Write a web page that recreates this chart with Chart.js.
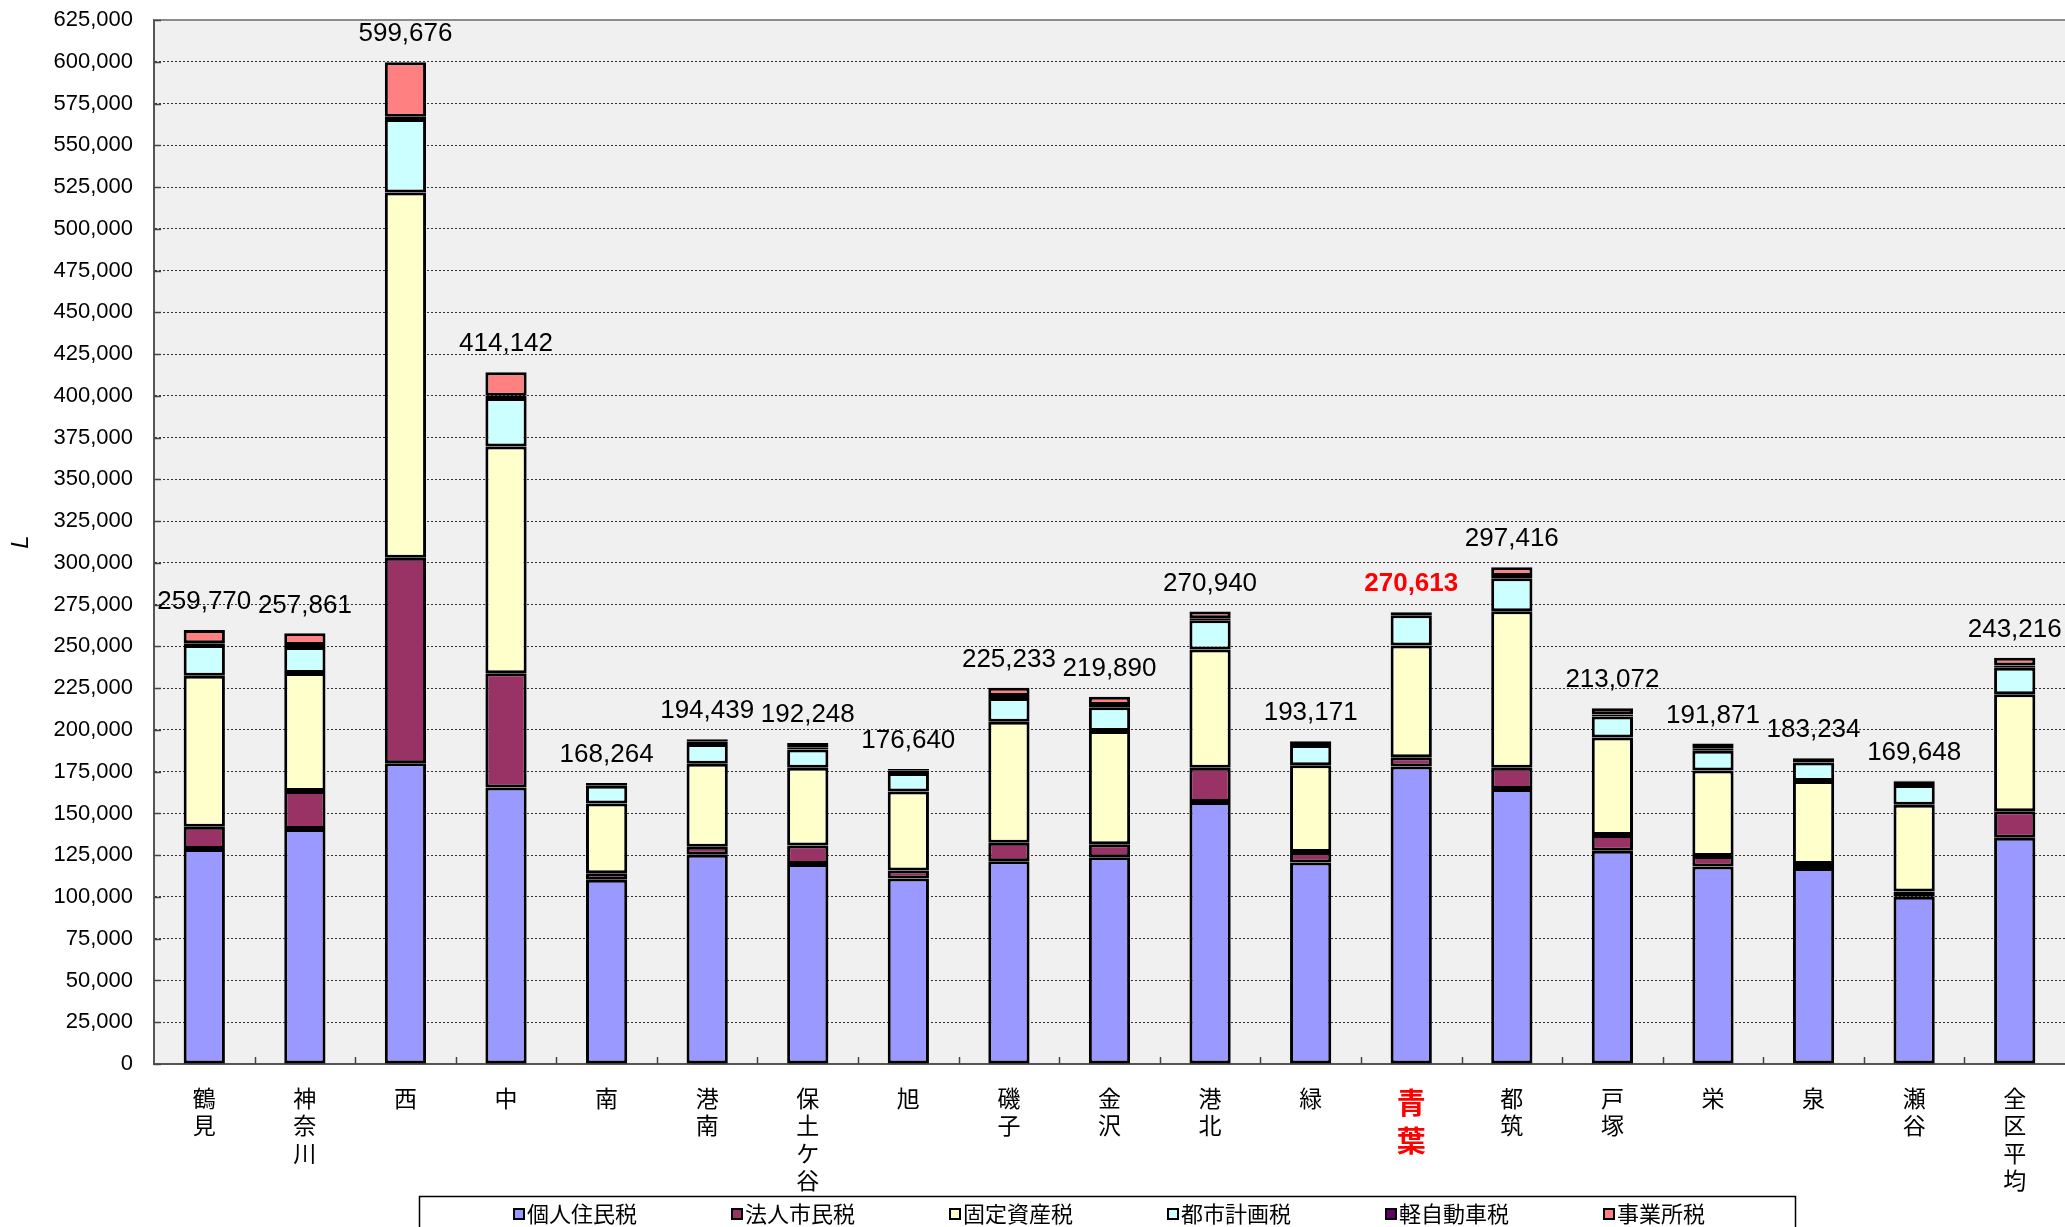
<!DOCTYPE html>
<html>
<head>
<meta charset="UTF-8">
<title>区別税収</title>
<style type="text/css">
body {
	margin: 0;
	background: #ffffff;
}
#chart {
	display: block;
}
</style>
<script type="text/javascript" src="https://cdn.jsdelivr.net/npm/chart.js@4/dist/chart.umd.min.js"></script>
</head>
<body>
<canvas id="chart" width="2065" height="1227"></canvas>
<script type="text/javascript">
	// 区名
	var categories = ['鶴見', '神奈川', '西', '中', '南', '港南', '保土ケ谷', '旭', '磯子', '金沢',
		'港北', '緑', '青葉', '都筑', '戸塚', '栄', '泉', '瀬谷', '全区平均'];

	// 税目ごとの値
	var kojinJumin = [128700, 140700, 180000, 165500, 110300, 125300, 119800, 111100, 121400, 123700,
		156800, 120600, 178100, 164700, 127700, 118200, 117400, 100100, 135500];
	var hojinShimin = [13400, 22700, 123100, 68500, 3900, 4700, 11000, 4700, 11000, 7900,
		20500, 6300, 5500, 12600, 9400, 6300, 2400, 3100, 15800];
	var koteiShisan = [90400, 70700, 218600, 135600, 41700, 49700, 46500, 47300, 72500, 67800,
		70900, 52000, 67000, 93800, 58300, 51200, 49600, 52000, 70100];
	var toshiKeikaku = [18300, 15500, 44100, 29100, 10700, 11800, 11000, 11100, 14200, 14200,
		17400, 12000, 18100, 19700, 12600, 11900, 11100, 11900, 15800];
	var keiJidosha = [1100, 1200, 1300, 1300, 1000, 1400, 1300, 1400, 1200, 1300,
		1200, 1800, 1400, 1300, 1300, 1500, 2300, 2100, 1300];
	var jigyosho = [7900, 7000, 32600, 14100, 600, 1500, 2600, 1000, 4900, 5000,
		4100, 500, 500, 5300, 3700, 2800, 400, 400, 4700];

	// 合計（棒の上のラベル）
	var totals = [259770, 257861, 599676, 414142, 168264, 194439, 192248, 176640, 225233, 219890,
		270940, 193171, 270613, 297416, 213072, 191871, 183234, 169648, 243216];

	var yMax = 625000;
	var yStep = 25000;
	var highlight = 12; // 青葉

	function fmt(v) {
		return Number(v).toLocaleString('en-US');
	}

	// 背景、軸の目盛り、合計ラベル、凡例を描く
	var decorPlugin = {
		id: 'decor',
		beforeDraw: function(chart) {
			var ctx = chart.ctx, a = chart.chartArea;
			ctx.save();
			ctx.fillStyle = '#f0f0f0';
			ctx.fillRect(a.left, a.top, a.right - a.left, a.bottom - a.top);
			ctx.restore();
		},
		afterDatasetsDraw: function(chart) {
			var ctx = chart.ctx, a = chart.chartArea;
			var x = chart.scales.x, y = chart.scales.y;
			ctx.save();
			// 上端の枠線
			ctx.strokeStyle = '#8c8c8c';
			ctx.lineWidth = 2;
			ctx.beginPath();
			ctx.moveTo(a.left, a.top);
			ctx.lineTo(a.right, a.top);
			ctx.stroke();
			// 内向きの目盛り
			ctx.strokeStyle = '#444';
			ctx.lineWidth = 1.5;
			for (var v = 0; v <= yMax; v += yStep) {
				var py = Math.round(y.getPixelForValue(v)) + 0.5;
				ctx.beginPath();
				ctx.moveTo(a.left, py);
				ctx.lineTo(a.left + 7, py);
				ctx.stroke();
			}
			var w = x.getPixelForValue(1) - x.getPixelForValue(0);
			for (var i = 1; i < categories.length; i++) {
				var px = Math.round(x.getPixelForValue(i) - w / 2) + 0.5;
				ctx.beginPath();
				ctx.moveTo(px, a.bottom);
				ctx.lineTo(px, a.bottom - 7);
				ctx.stroke();
			}
			// 合計ラベル
			var topMeta = chart.getDatasetMeta(chart.data.datasets.length - 1);
			ctx.textAlign = 'center';
			ctx.textBaseline = 'middle';
			for (var j = 0; j < totals.length; j++) {
				var bar = topMeta.data[j];
				if (j == highlight) {
					ctx.fillStyle = '#ff0000';
					ctx.font = 'bold 26px "Liberation Sans", Arial, sans-serif';
				} else {
					ctx.fillStyle = '#000000';
					ctx.font = '26px "Liberation Sans", Arial, sans-serif';
				}
				ctx.fillText(fmt(totals[j]), bar.x, bar.y - 28);
			}
			ctx.restore();
		},
		afterDraw: function(chart) {
			var ctx = chart.ctx;
			ctx.save();
			// 凡例の枠
			ctx.strokeStyle = '#000';
			ctx.lineWidth = 1.5;
			ctx.strokeRect(419.5, 1196.5, 1376, 60);
			ctx.font = '22px "Noto Sans CJK JP", sans-serif';
			ctx.textBaseline = 'middle';
			ctx.textAlign = 'left';
			chart.data.datasets.forEach(function(ds, k) {
				var cx = 519 + k * 218;
				ctx.fillStyle = ds.backgroundColor;
				ctx.fillRect(cx - 5, 1209, 10, 10);
				ctx.strokeStyle = '#000';
				ctx.lineWidth = 2;
				ctx.strokeRect(cx - 5, 1209, 10, 10);
				ctx.fillStyle = '#000';
				ctx.fillText(ds.label, cx + 8, 1214);
			});
			ctx.restore();
		}
	};

	function makeSet(label, data, color) {
		return {
			label: label,
			data: data,
			backgroundColor: color,
			borderColor: '#000000',
			borderWidth: 3,
			borderSkipped: false,
			categoryPercentage: 1,
			barPercentage: 0.41
		};
	}

	var ctx = document.getElementById('chart').getContext('2d');
	var chart = new Chart(ctx, {
		type: 'bar',
		data: {
			labels: categories.map(function(s) { return Array.from(s); }),
			datasets: [
				makeSet('個人住民税', kojinJumin, '#9999ff'),
				makeSet('法人市民税', hojinShimin, '#993366'),
				makeSet('固定資産税', koteiShisan, '#ffffcc'),
				makeSet('都市計画税', toshiKeikaku, '#ccffff'),
				makeSet('軽自動車税', keiJidosha, '#660066'),
				makeSet('事業所税', jigyosho, '#ff8080')
			]
		},
		options: {
			responsive: false,
			animation: false,
			layout: { padding: { top: 20, left: 0, right: 0, bottom: 0 } },
			plugins: {
				legend: { display: false },
				tooltip: { enabled: false }
			},
			scales: {
				x: {
					stacked: true,
					grid: { display: false },
					border: { display: true, color: '#555', width: 2 },
					ticks: {
						autoSkip: false,
						maxRotation: 0,
						padding: 12,
						color: function(c) { return c.index == highlight ? '#ff0000' : '#000000'; },
						font: function(c) {
							if (c.index == highlight)
								return { family: '"Noto Sans CJK JP", sans-serif', size: 29, weight: 'bold', lineHeight: 1.3 };
							return { family: '"Noto Sans CJK JP", sans-serif', size: 23, lineHeight: 1.2 };
						}
					},
					afterFit: function(scale) { scale.height = 163; }
				},
				y: {
					stacked: true,
					min: 0,
					max: yMax,
					grid: { color: '#333', lineWidth: 1, drawTicks: false },
					border: { display: true, color: '#555', width: 2, dash: [2, 2] },
					ticks: {
						stepSize: yStep,
						padding: 21,
						color: '#000',
						font: { family: '"Liberation Sans", Arial, sans-serif', size: 22 },
						callback: function(v) { return fmt(v); }
					},
					title: {
						display: true,
						text: 'L',
						color: '#000',
						padding: { top: 7, bottom: 0 },
						font: { family: '"Liberation Sans", Arial, sans-serif', size: 24, style: 'italic' }
					},
					afterFit: function(scale) {
						scale.width = 154;
						scale.paddingTop = 0;
						scale.paddingBottom = 0;
					}
				}
			}
		},
		plugins: [decorPlugin]
	});
</script>
</body>
</html>
